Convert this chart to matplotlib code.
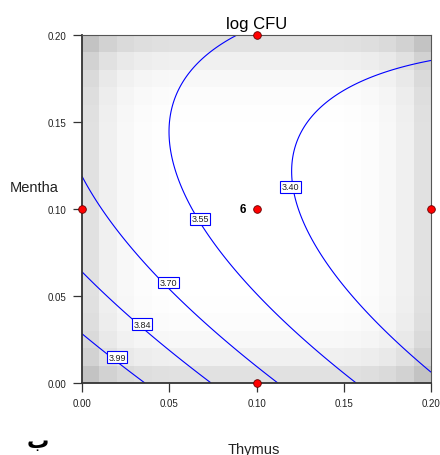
import numpy as np
import matplotlib
matplotlib.use('Agg')
import matplotlib.pyplot as plt

plt.rcParams['font.family'] = ['Liberation Sans', 'DejaVu Sans']

# quadratic response model for log CFU, coded factors A = Thymus, B = Mentha
# log CFU = b0 + bA*A + bB*B + bAA*A^2 + bBB*B^2 + bAB*A*B
b0, bA, bB = 3.4557, -0.2414, -0.1038
bAA, bBB, bAB = 0.0384, 0.1840, 0.1193

thymus_range = [0.00, 0.20]
mentha_range = [0.00, 0.20]
levels = [3.40, 3.55, 3.70, 3.84, 3.99]

# where each contour label sits (Thymus, Mentha)
label_pos = {
    3.40: (0.1195, 0.1127),
    3.55: (0.0676, 0.0943),
    3.70: (0.0496, 0.0578),
    3.84: (0.0344, 0.0339),
    3.99: (0.0201, 0.0149),
}

# design points and their replicate counts
design_thymus = [0.00, 0.10, 0.10, 0.10, 0.20]
design_mentha = [0.10, 0.00, 0.10, 0.20, 0.10]
design_reps = [1, 1, 6, 1, 1]

# shading of prediction error: darkness at the edges of the region
se_cells = 20
se_scale = 0.16
se_power = 6

xt = [0.00, 0.05, 0.10, 0.15, 0.20]
yt = [0.00, 0.05, 0.10, 0.15, 0.20]


def to_coded(v, rng):
    mid = (rng[0] + rng[1]) / 2
    half = (rng[1] - rng[0]) / 2
    return (np.asarray(v) - mid) / half


def model(a, b):
    return b0 + bA * a + bB * b + bAA * a**2 + bBB * b**2 + bAB * a * b


fig = plt.figure(figsize=(4.4, 4.56), dpi=100)
ax = fig.add_axes([82 / 440, 1 - 384 / 456, 349 / 440, 348 / 456])

# gray error background as blocky cells
ex = np.linspace(thymus_range[0], thymus_range[1], se_cells + 1)
ey = np.linspace(mentha_range[0], mentha_range[1], se_cells + 1)
cx = to_coded((ex[:-1] + ex[1:]) / 2, thymus_range)
cy = to_coded((ey[:-1] + ey[1:]) / 2, mentha_range)
CX, CY = np.meshgrid(cx, cy)
shade = 1 - se_scale * (np.abs(CX)**se_power + np.abs(CY)**se_power)
ax.pcolormesh(ex, ey, shade, cmap='gray', vmin=0, vmax=1, shading='flat', zorder=0)

# contours of the fitted surface
gx = np.linspace(thymus_range[0], thymus_range[1], 201)
gy = np.linspace(mentha_range[0], mentha_range[1], 201)
GX, GY = np.meshgrid(gx, gy)
Z = model(to_coded(GX, thymus_range), to_coded(GY, mentha_range))
ax.contour(GX, GY, Z, levels=levels, colors='#0000ff', linewidths=0.8, zorder=2)

for lv, (px, py) in label_pos.items():
    ax.text(px, py, f'{lv:.2f}', fontsize=6.5, ha='center', va='center', color='#222222',
            zorder=4,
            bbox=dict(boxstyle='square,pad=0.15', facecolor='white',
                      edgecolor='#0000ff', linewidth=0.8))

# design points
ax.plot(design_thymus, design_mentha, 'o', ms=5.5, mfc='#ff0000', mec='#660000',
        mew=0.6, clip_on=False, zorder=5)
for dx, dy, n in zip(design_thymus, design_mentha, design_reps):
    if n > 1:
        ax.annotate(str(n), (dx, dy), xytext=(-7.5, 0), textcoords='offset points',
                    ha='right', va='center', fontsize=8.5, fontweight='bold')

ax.set_xlim(thymus_range)
ax.set_ylim(mentha_range)
ax.set_xticks(xt)
ax.set_yticks(yt)
ax.set_xticklabels([f'{v:.2f}' for v in xt])
ax.set_yticklabels([f'{v:.2f}' for v in yt])
ax.tick_params(direction='out', length=6.5, width=0.9, labelsize=7, colors='#333333',
               labelcolor='#222222')
ax.tick_params(axis='x', pad=4)
ax.tick_params(axis='y', pad=5)

for side in ['left', 'bottom']:
    ax.spines[side].set_color('#333333')
    ax.spines[side].set_linewidth(1.3)
for side in ['top', 'right']:
    ax.spines[side].set_color('#555555')
    ax.spines[side].set_linewidth(0.8)

ax.set_title('log CFU', fontsize=12, pad=5)
fig.text(10 / 440, 1 - 188 / 456, 'Mentha', fontsize=10.5, ha='left', va='center',
         color='#222222')
fig.text(254 / 440, 1 - 450 / 456, 'Thymus', fontsize=10.5, ha='center', va='center',
         color='#222222')
fig.text(38 / 440, 1 - 448 / 456, 'ب', fontsize=16, fontweight='bold', ha='center',
         va='baseline', family=['DejaVu Sans'])

fig.savefig('out.png', dpi=100, facecolor='white')
